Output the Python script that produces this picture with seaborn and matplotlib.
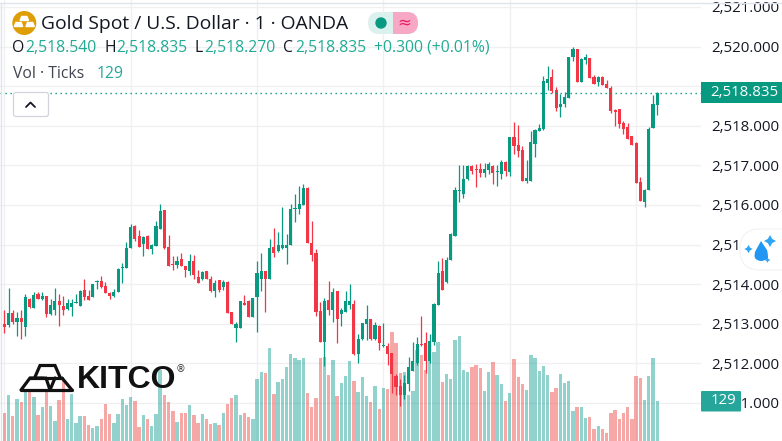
import matplotlib
matplotlib.use("Agg")
import matplotlib.pyplot as plt
from matplotlib.patches import Circle, FancyBboxPatch, PathPatch, Rectangle, Polygon
from matplotlib.path import Path
import numpy as np
import pandas as pd
import seaborn as sns

# candles (price minus 2500)
opens = [12.99,12.96,13.27,13.04,13.14,12.91,13.62,13.39,13.75,13.62,13.70,13.24,13.34,13.57,13.44,13.37,13.42,13.52,13.44,13.85,
         13.70,13.67,14.05,14.07,13.95,13.77,13.70,13.80,14.40,14.40,14.91,15.46,15.21,15.01,15.21,14.88,14.96,15.39,15.87,14.93,
         14.50,14.48,14.63,14.45,14.33,14.58,14.18,14.12,14.33,14.12,13.82,14.10,13.92,14.05,13.29,12.89,12.89,13.52,13.57,13.16,
         13.67,14.13,14.33,14.13,14.93,14.83,14.91,14.91,14.99,15.89,15.89,16.00,16.43,15.04,14.78,13.32,12.54,13.60,13.34,13.82,
         13.24,13.29,13.47,13.50,12.23,12.61,12.99,13.12,12.61,12.94,12.43,12.43,12.26,11.68,11.42,11.20,11.47,11.80,12.00,12.48,
         12.51,12.06,12.54,13.47,14.33,14.05,14.61,15.21,16.35,16.28,16.66,16.98,16.91,16.91,16.81,16.88,16.98,16.83,16.78,17.09,
         16.83,17.72,17.52,17.39,16.61,16.61,17.54,17.87,17.92,19.08,19.23,18.90,18.47,18.55,18.70,19.74,19.94,19.11,19.66,19.71,
         19.23,19.11,19.23,19.06,18.95,18.40,18.42,18.07,17.97,17.74,17.57,16.58,16.08,16.38,17.94,18.53]
highs = [13.34,13.90,13.34,13.29,13.34,13.75,13.65,13.80,13.80,13.80,13.70,13.62,13.90,13.75,13.70,13.62,13.62,13.75,13.85,14.12,
         13.85,14.00,14.10,14.20,14.05,13.80,13.87,14.40,14.53,15.06,15.51,15.49,15.36,15.21,15.24,15.01,15.59,16.02,15.87,15.24,
         14.71,14.71,14.78,14.45,14.76,14.73,14.35,14.33,14.33,14.20,14.10,14.10,14.10,14.07,13.29,13.04,13.57,13.72,13.60,13.65,
         14.58,14.78,14.33,15.14,15.41,15.31,15.95,15.26,16.02,16.27,16.48,16.53,16.45,15.59,14.88,13.55,13.65,14.08,13.90,13.82,
         13.39,13.82,14.00,13.60,12.74,13.02,13.47,13.12,13.04,12.96,13.02,12.51,12.26,11.73,11.60,11.70,12.16,12.54,12.66,13.19,
         12.79,12.74,13.52,14.58,14.66,14.68,15.29,16.45,17.01,17.01,17.01,17.01,17.03,17.06,17.06,17.09,17.01,17.01,17.14,17.11,
         17.72,18.10,18.02,17.49,17.14,17.87,17.92,18.05,19.26,19.51,19.43,18.98,18.80,18.85,19.74,19.99,19.94,19.71,19.81,19.71,
         19.28,19.26,19.26,19.16,19.01,18.42,18.42,18.12,18.07,17.74,17.59,16.71,16.40,17.97,18.78,18.85]
lows = [12.77,12.92,12.99,12.68,12.62,12.68,13.39,13.39,13.62,13.60,13.17,13.22,13.22,12.94,13.22,13.34,13.19,13.52,13.44,13.60,
        13.60,13.67,13.87,13.90,13.77,13.62,13.67,13.80,14.02,14.40,14.91,15.08,14.93,14.71,14.88,14.76,14.96,15.39,14.88,14.45,
        14.35,14.40,14.45,14.18,14.23,14.12,14.02,14.10,14.12,13.80,13.67,13.80,13.85,13.27,12.99,12.53,12.89,13.47,13.16,13.16,
        12.79,13.82,13.29,14.13,14.68,14.81,14.88,14.51,14.99,15.57,15.77,16.00,15.04,14.58,13.19,12.54,11.93,13.22,13.04,12.51,
        12.94,13.29,13.37,12.21,12.00,12.59,12.59,12.59,12.59,12.33,12.41,11.95,11.25,11.20,10.92,11.10,11.30,11.80,11.95,12.43,
        11.75,12.00,12.46,13.47,13.85,14.03,14.61,15.21,16.08,16.18,16.63,16.78,16.45,16.71,16.71,16.78,16.53,16.48,16.66,16.73,
        16.73,17.29,17.21,16.61,16.55,16.61,17.21,17.87,17.89,18.90,18.83,18.37,18.22,18.47,18.70,19.64,19.11,19.11,19.56,19.21,
        19.06,19.01,19.03,18.95,18.32,17.99,17.94,17.79,17.67,17.52,16.55,16.10,15.95,16.38,17.94,18.27]
closes = [12.91,13.27,13.04,13.14,13.04,13.67,13.42,13.72,13.62,13.70,13.24,13.47,13.57,13.47,13.34,13.52,13.52,13.54,13.82,13.67,
          13.60,14.00,14.07,13.92,13.77,13.70,13.80,14.38,14.43,14.91,15.44,15.13,14.93,15.19,14.88,14.98,15.46,15.84,14.91,14.45,
          14.48,14.58,14.45,14.35,14.58,14.23,14.02,14.30,14.12,13.82,14.02,13.85,14.05,13.27,12.99,12.99,13.57,13.47,13.16,13.65,
          14.28,14.33,14.13,14.91,14.78,14.99,14.99,14.99,15.89,15.92,16.02,16.43,15.04,14.73,13.29,12.54,13.57,13.34,13.80,13.12,
          13.34,13.57,13.57,12.23,12.61,13.02,13.12,12.61,12.96,12.51,12.46,12.23,11.73,11.40,11.20,11.50,11.90,12.06,12.48,12.46,
          12.06,12.56,13.50,14.28,13.85,14.61,15.26,16.37,16.38,16.66,16.98,16.86,16.88,16.81,16.91,17.03,16.81,16.86,17.09,16.86,
          17.72,17.49,17.36,16.61,16.68,17.59,17.89,17.94,19.13,19.18,18.88,18.45,18.55,18.73,19.74,19.94,19.11,19.69,19.74,19.21,
          19.06,19.23,19.03,18.95,18.37,18.35,18.05,17.92,17.67,17.52,16.55,16.10,16.38,17.92,18.55,18.835]
volumes = [90,148,81,135,126,161,161,142,84,110,164,113,65,132,197,71,152,58,81,81,
           52,42,48,71,119,87,58,87,135,116,142,129,45,84,71,48,87,229,148,126,
           97,61,90,90,116,84,58,87,71,55,58,52,90,119,139,148,84,90,77,71,
           200,222,219,300,152,190,200,239,281,268,261,268,155,110,139,268,271,213,261,145,
           187,210,258,194,158,206,145,126,177,103,171,168,352,316,219,223,148,161,293,277,
           229,258,287,319,190,216,200,326,339,229,223,239,245,235,161,223,255,213,184,129,
           155,264,206,184,164,277,268,226,242,213,158,171,216,187,194,97,110,110,74,77,
           39,48,39,26,90,100,71,90,110,71,210,203,132,210,268,129]
price_ticks = [2511, 2512, 2513, 2514, 2515, 2516, 2517, 2518, 2519, 2520, 2521]
time_ticks = [0, 30, 60, 90, 120, 150]
last_price = 2518.835

GREEN = "#089981"
RED = "#F23645"
TEAL = "#22AB94"
DARK = "#131722"
GRID = "#F0F0F3"

df = pd.DataFrame({"i": range(len(opens)), "open": opens, "high": highs, "low": lows, "close": closes, "vol": volumes})
df[["open", "high", "low", "close"]] += 2500
df["dir"] = np.where(df["close"] >= df["open"], "up", "down")
df["col"] = np.where(df["close"] >= df["open"], GREEN, RED)

sns.set_theme(style="white")
plt.rcParams["font.family"] = ["Open Sans", "DejaVu Sans"]

W, H = 782, 441
fig = plt.figure(figsize=(W / 100, H / 100), dpi=100)
fig.patch.set_facecolor("white")
ax = fig.add_axes([0, 0, 701 / W, 1])
xlim = (-1.03, 165.4)
ylim = (2510.04, 2521.174)

# volume
ax_vol = ax.twinx()
sns.barplot(data=df, x="i", y="vol", hue="dir", palette={"up": "#26A69A", "down": "#EF5350"},
            hue_order=["up", "down"], native_scale=True, dodge=False, errorbar=None, legend=False,
            width=0.8, saturation=1, alpha=0.5, linewidth=0, ax=ax_vol)
ax_vol.set_ylim(0, 1422)
ax_vol.set_xlabel("")
ax_vol.axis("off")

# candles
ax_c = ax.twinx()
ax_c.vlines(df["i"], df["low"], df["high"], colors=df["col"], linewidth=0.9, snap=True)
ax_c.bar(df["i"], (df["close"] - df["open"]).abs().clip(lower=0.025), bottom=df[["open", "close"]].min(axis=1),
         width=0.74, color=df["col"], linewidth=0)
ax_c.axhline(last_price, color=GREEN, linewidth=1, linestyle=(0, (1, 2.6)))
ax_c.set_ylim(ylim)
ax_c.axis("off")

# price grid and right hand scale, after twinx which moves the ticks to the left
ax.set_xticks(time_ticks)
ax.set_yticks(price_ticks)
ax.set_yticklabels([f"{p:,.3f}" for p in price_ticks])
ax.yaxis.tick_right()
ax.tick_params(axis="y", length=0, pad=7.2, labelsize=10.85, labelcolor=DARK)
ax.tick_params(axis="x", length=0, labelbottom=False)
ax.grid(True, color=GRID, linewidth=1)
sns.despine(ax=ax, left=True, right=True, top=True, bottom=True)

ax.set_xlim(xlim)
ax.set_ylim(ylim)
ax_vol.set_xlim(xlim)
ax_c.set_xlim(xlim)

# everything placed by pixel on top: header, logo, badges
ov = fig.add_axes([0, 0, 1, 1], zorder=10)
ov.set_xlim(0, W)
ov.set_ylim(H, 0)
ov.axis("off")
ov.patch.set_alpha(0)

ov.plot([0, 782], [2.5, 2.5], color="#E0E3EB", linewidth=1)
ov.plot([1, 1], [2.5, 441], color="#E0E3EB", linewidth=1)

# symbol icon
ov.add_patch(Circle((24.3, 23), 11.3, color="#DE9E06"))
for xb, yb in [(24.3, 16.5), (18.5, 22.5), (30.1, 22.5)]:
    ov.add_patch(Polygon([(xb - 4.2, yb + 4), (xb - 2.6, yb), (xb + 2.6, yb), (xb + 4.2, yb + 4)], color="white"))
ov.text(41, 24, "Gold Spot / U.S. Dollar · 1 · OANDA", fontsize=13.9, color=DARK, va="center", ha="left")

# status pill
ov.add_patch(FancyBboxPatch((368, 12), 50, 22, boxstyle="round,pad=0,rounding_size=11", fc="#DAF1EE", ec="#DAF1EE", lw=0))
pink = FancyBboxPatch((368, 12), 50, 22, boxstyle="round,pad=0,rounding_size=11", fc="#F7A8C4", ec="#F7A8C4", lw=0)
ov.add_patch(pink)
pink.set_clip_path(Rectangle((393, 10), 30, 26, transform=ov.transData))
ov.add_patch(Circle((381, 23), 5, color=GREEN))
ov.text(404, 22.5, "≈", fontsize=12, color="#E91E63", ha="center", va="center", family=["DejaVu Sans"])

# OHLC row
for x, t, c in [(12, "O", DARK), (25, "2,518.540", TEAL), (104, "H", DARK), (116, "2,518.835", TEAL),
                (195, "L", DARK), (204, "2,518.270", TEAL), (283, "C", DARK), (295, "2,518.835", TEAL),
                (374, "+0.300 (+0.01%)", TEAL)]:
    ov.text(x, 48, t, fontsize=11.3, color=c, ha="left", va="center")
ov.text(13, 74, "Vol · Ticks", fontsize=11.3, color="#42454F", ha="left", va="center")
ov.text(97, 74, "129", fontsize=11.3, color="#26A69A", ha="left", va="center")

# collapse button
ov.add_patch(FancyBboxPatch((13.5, 92.5), 35, 24, boxstyle="round,pad=0,rounding_size=2.5", fc="white", ec="#D1D4DC", lw=0.9))
ov.plot([26, 30.5, 35], [107, 102.5, 107], color=DARK, linewidth=1.3)

# price badges
ov.add_patch(Rectangle((701, 82), 81, 21, fc=GREEN, ec="none"))
ov.text(744, 92.5, f"{last_price:,.3f}", fontsize=10.85, color="white", ha="center", va="center")
ov.add_patch(FancyBboxPatch((701, 391), 40, 20.5, boxstyle="round,pad=0,rounding_size=1", fc="#26A69A", ec="none"))
ov.text(723, 401, str(volumes[-1]), fontsize=10.85, color="white", ha="center", va="center")

# Kitco logo
for pts in [[(21, 390), (72, 390)], [(21, 390), (30, 378), (44, 378)], [(30, 377.5), (62, 377.5)],
            [(35, 377), (40, 365.5), (55, 365.5), (60, 377)], [(46, 378), (50, 390)],
            [(50, 390), (55, 378)], [(62, 378), (72, 390)]]:
    xs, ys = zip(*pts)
    ov.plot(xs, ys, color="#111111", linewidth=2.3, solid_joinstyle="miter", solid_capstyle="round")
ov.text(77, 380, "KITCO", fontsize=23, color="#111111", ha="left", va="center", family=["Liberation Sans"], fontweight="bold")
ov.text(180.5, 369.5, "®", fontsize=7, color="#333333", ha="center", va="center", family=["DejaVu Sans"])

# drop widget
ov.add_patch(FancyBboxPatch((740, 229), 60, 41, boxstyle="round,pad=0,rounding_size=20", fc="white", ec="#F2F2F2", lw=0.8))
drop = Path([(761, 241), (756, 250), (753.5, 254), (755, 258), (757, 261), (761, 261), (765, 261), (768, 258), (768, 253), (767, 250), (761, 241)],
            [Path.MOVETO, Path.LINETO, Path.CURVE3, Path.CURVE3, Path.CURVE3, Path.CURVE3, Path.CURVE3, Path.CURVE3, Path.CURVE3, Path.LINETO, Path.CLOSEPOLY])
ov.add_patch(PathPatch(drop, fc="#2196F3", ec="none"))
ov.scatter([770, 748.5, 767.5], [241, 249, 260], marker=(4, 1, 0), s=[75, 35, 16], color="#2FA5F5", linewidths=0)

fig.savefig("out.png", dpi=100)
